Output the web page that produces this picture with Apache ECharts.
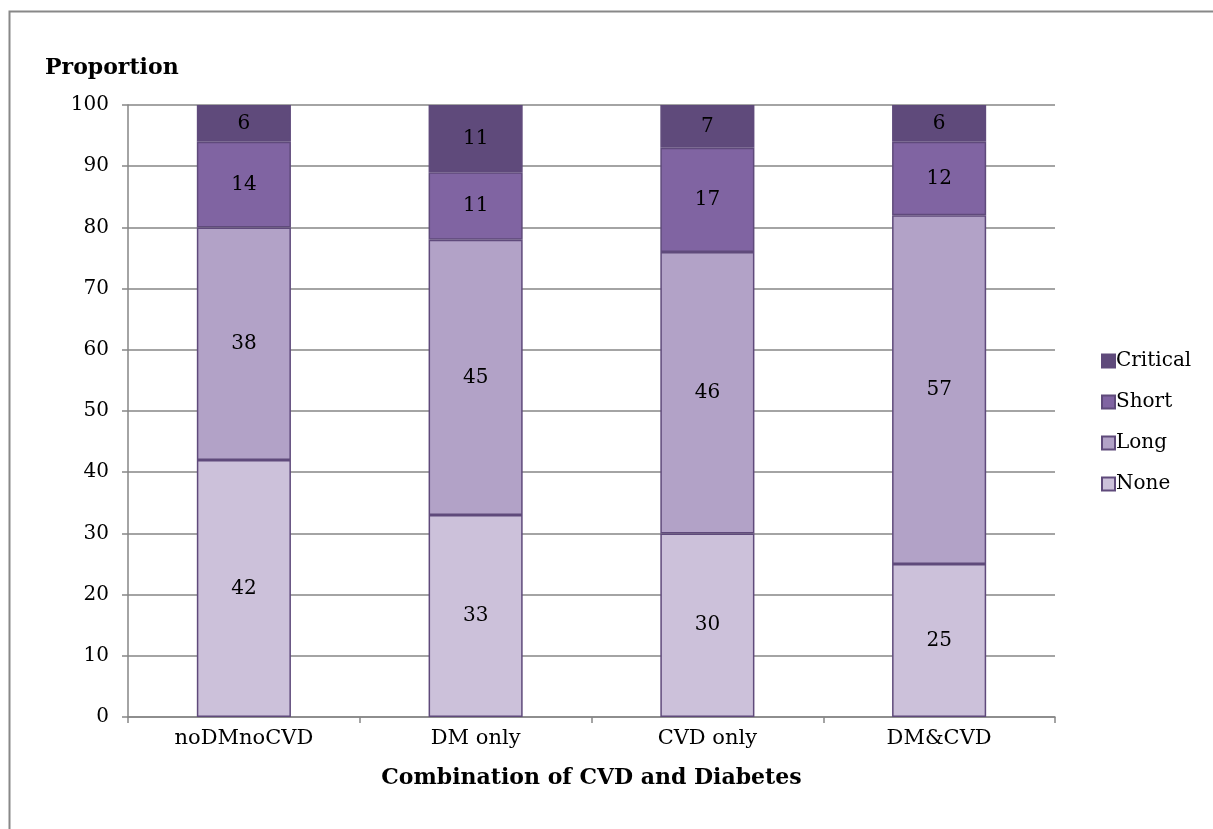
<!DOCTYPE html>
<html>
<head>
<meta charset="utf-8">
<script src="https://cdn.jsdelivr.net/npm/echarts@6/dist/echarts.min.js"></script>
<style>html,body{margin:0;padding:0;background:#fff}#c{width:1213px;height:829px}</style>
</head>
<body>
<div id="c"></div>
<script>
const categories = ['noDMnoCVD', 'DM only', 'CVD only', 'DM&CVD'];
const noneVals = [42, 33, 30, 25];
const longVals = [38, 45, 46, 57];
const shortVals = [14, 11, 17, 12];
const criticalVals = [6, 11, 7, 6];
const yTicks = [0, 10, 20, 30, 40, 50, 60, 70, 80, 90, 100];

const FONT = 'DejaVu Serif';
const chart = echarts.init(document.getElementById('c'), null, {renderer: 'canvas'});
function ser(name, data, color) {
  return {
    name: name, type: 'bar', stack: 'total', data: data, barWidth: '40.6%',
    itemStyle: {color: color, borderColor: '#5f4a7b', borderWidth: 1.5},
    label: {show: true, position: 'inside', color: '#000', fontFamily: FONT, fontSize: 20},
    emphasis: {disabled: true}
  };
}
chart.setOption({
  animation: false,
  backgroundColor: '#fff',
  graphic: [{
    type: 'rect', shape: {x: 9.5, y: 11.5, width: 1400, height: 1000},
    style: {fill: 'none', stroke: '#888', lineWidth: 2}, silent: true, z: -10
  }],
  title: {
    text: 'Proportion', left: 40, top: 52,
    textStyle: {fontFamily: FONT, fontWeight: 'bold', fontSize: 22, color: '#000'}
  },
  grid: {left: 128, right: 158, top: 105, bottom: 112},
  legend: {
    orient: 'vertical', left: 1096, top: 346,
    data: ['Critical', 'Short', 'Long', 'None'],
    icon: 'rect', itemWidth: 13, itemHeight: 13, itemGap: 21,
    textStyle: {fontFamily: FONT, fontSize: 20, color: '#000', padding: [0, 0, 0, -4]}
  },
  xAxis: {
    type: 'category', data: categories,
    name: 'Combination of CVD and Diabetes', nameLocation: 'middle', nameGap: 50,
    nameTextStyle: {fontFamily: FONT, fontWeight: 'bold', fontSize: 22, color: '#000'},
    axisLine: {lineStyle: {color: '#868686', width: 1.5}},
    axisTick: {show: true, length: 6, lineStyle: {color: '#868686', width: 1.5}},
    axisLabel: {fontFamily: FONT, fontSize: 21, color: '#000', margin: 11}
  },
  yAxis: {
    type: 'value', min: 0, max: 100, interval: 10,
    axisLine: {show: true, lineStyle: {color: '#868686', width: 1.5}},
    axisTick: {show: true, length: 6, lineStyle: {color: '#868686', width: 1.5}},
    splitLine: {lineStyle: {color: '#868686', width: 1.5}},
    axisLabel: {fontFamily: FONT, fontSize: 20, color: '#000', margin: 19,
      formatter: v => yTicks.includes(v) ? String(v) : ''}
  },
  series: [
    ser('None', noneVals, '#ccc1da'),
    ser('Long', longVals, '#b2a2c7'),
    ser('Short', shortVals, '#8064a2'),
    ser('Critical', criticalVals, '#5f4a7b')
  ]
});
</script>
</body>
</html>
